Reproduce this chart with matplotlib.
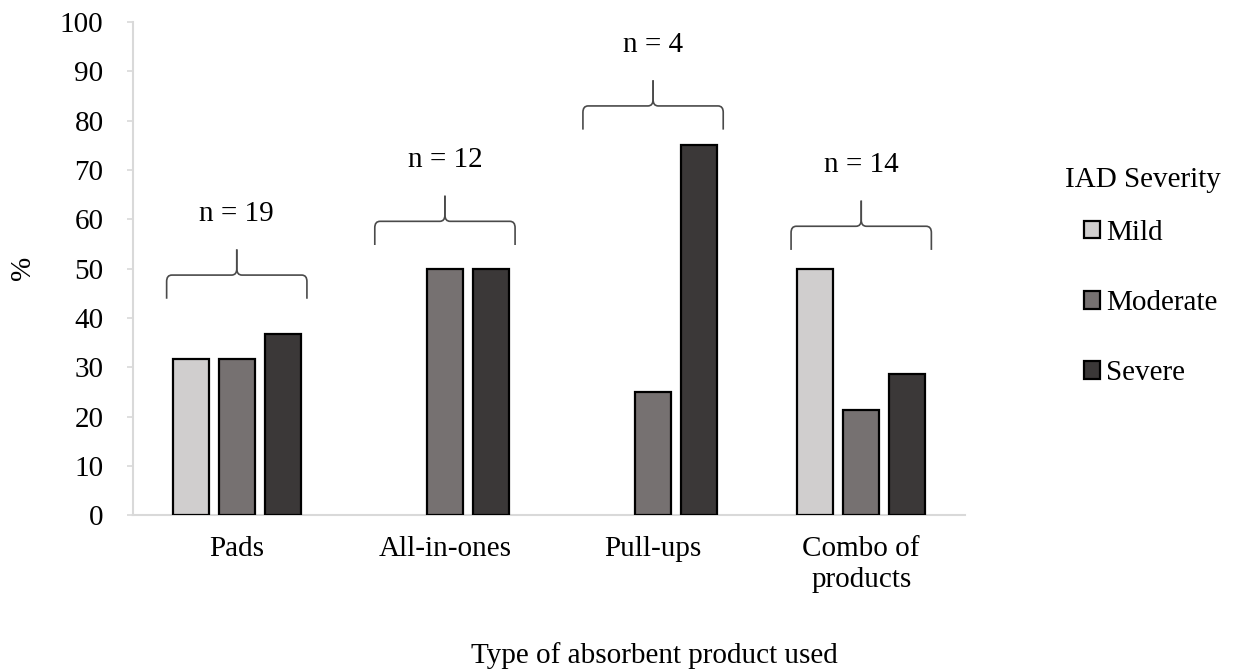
import numpy as np
import matplotlib.pyplot as plt
from matplotlib.path import Path
from matplotlib.patches import PathPatch

plt.rcParams['font.family'] = ['Liberation Serif', 'DejaVu Serif']
plt.rcParams['font.size'] = 21

# data
categories = ['Pads', 'All-in-ones', 'Pull-ups', 'Combo of\nproducts']
series = ['Mild', 'Moderate', 'Severe']
mild = [31.6, 0, 0, 50.0]
moderate = [31.6, 50.0, 25.0, 21.4]
severe = [36.8, 50.0, 75.0, 28.6]
n_labels = ['n = 19', 'n = 12', 'n = 4', 'n = 14']

# layout of the braces (y level of the flat part)
brace_levels = [48.7, 59.6, 83.0, 58.6]
colors = ['#d0cece', '#767171', '#3b3838']

fig = plt.figure(figsize=(12.52, 6.70), dpi=100)
ax = fig.add_axes([0.106, 0.231, 0.665, 0.736])

x = np.arange(len(categories))
w = 0.173
off = 0.221
for i, (vals, name) in enumerate(zip([mild, moderate, severe], series)):
    bars = ax.bar(x + (i - 1) * off, vals, w, color=colors[i], edgecolor='black',
                  linewidth=1.6, label=name, zorder=3)
    for b, v in zip(bars, vals):
        if v == 0:
            b.set_visible(False)


def brace(ax, xc, yf, half=0.337, drop=4.8, rise=5.2, rx=0.025, ry=1.3):
    x0, x1 = xc - half, xc + half
    for xe, sgn in [(x0, 1), (x1, -1)]:
        verts = [(xe, yf - drop), (xe, yf - ry), (xe, yf), (xe + sgn * rx, yf),
                 (xc - sgn * rx, yf), (xc, yf), (xc, yf + ry), (xc, yf + rise)]
        codes = [Path.MOVETO, Path.LINETO, Path.CURVE3, Path.CURVE3,
                 Path.LINETO, Path.CURVE3, Path.CURVE3, Path.LINETO]
        ax.add_patch(PathPatch(Path(verts, codes), fill=False, lw=1.2,
                               edgecolor='#4a4a4a', zorder=4))


for xi, yf, lab in zip(x, brace_levels, n_labels):
    brace(ax, xi, yf)
    ax.text(xi, yf + 12.4, lab, ha='center', va='center')

ax.set_xlim(-0.5, 3.5)
ax.set_ylim(0, 100)
ax.set_yticks(np.arange(0, 101, 10))
ax.set_xticks(x)
ax.set_xticklabels(categories, linespacing=1.25)
for s in ['top', 'right']:
    ax.spines[s].set_visible(False)
for s in ['left', 'bottom']:
    ax.spines[s].set_color('#d9d9d9')
    ax.spines[s].set_linewidth(1.5)
ax.tick_params(axis='y', length=4, width=1.2, color='#d9d9d9', pad=17)
ax.tick_params(axis='x', length=0, pad=15)

fig.text(0.018, 0.6, '%', rotation=90, ha='center', va='center')
fig.text(0.523, 0.022, 'Type of absorbent product used', ha='center', va='center')

fig.text(0.851, 0.731, 'IAD Severity', ha='left', va='center')
ax.legend(loc='upper left', bbox_to_anchor=(0.866, 0.672),
          bbox_transform=fig.transFigure, frameon=False,
          handlelength=0.55, handleheight=0.55, handletextpad=0.2,
          labelspacing=1.52, borderpad=0, borderaxespad=0)

fig.savefig('out.png', dpi=100)
